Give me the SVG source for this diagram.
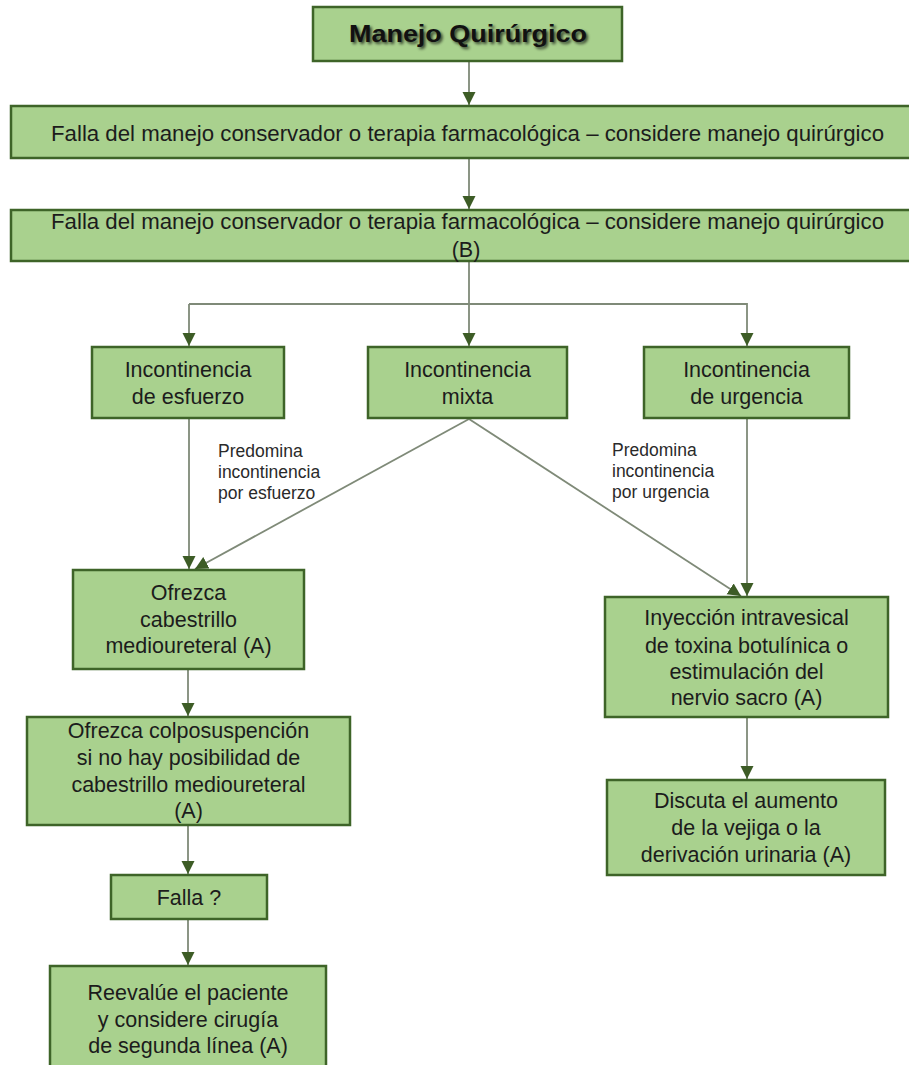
<svg xmlns="http://www.w3.org/2000/svg" width="909" height="1065" viewBox="0 0 909 1065">
  <style>
    .box { fill: #a9d18e; stroke: #3e6428; stroke-width: 2.5; }
    .t { font-family: "Liberation Sans", Arial, sans-serif; font-size: 21.5px; fill: #1c1c1c; text-anchor: middle; }
    .lbl { font-family: "Liberation Sans", Arial, sans-serif; font-size: 17.5px; fill: #2a2a2a; }
    .title { font-family: "Liberation Sans", Arial, sans-serif; font-size: 24px; font-weight: bold; fill: #111; text-anchor: middle; }
    .c { fill: none; stroke: #7f8a78; stroke-width: 1.8; }
  </style>
  <defs>
    <marker id="ah" markerUnits="userSpaceOnUse" markerWidth="14" markerHeight="14" refX="13" refY="6.5" orient="auto">
      <path d="M0,0 L13,6.5 L0,13 Z" fill="#3d5c26"/>
    </marker>
    <filter id="sh" x="-10%" y="-40%" width="120%" height="180%">
      <feGaussianBlur stdDeviation="1.8"/>
    </filter>
  </defs>
  <rect width="909" height="1065" fill="#ffffff"/>

  <g id="connectors">
    <line class="c" x1="469" y1="62" x2="469" y2="105" marker-end="url(#ah)"/>
    <line class="c" x1="469" y1="158" x2="469" y2="209" marker-end="url(#ah)"/>
    <line class="c" x1="469" y1="262" x2="469" y2="346" marker-end="url(#ah)"/>
    <path class="c" d="M189,304 L747,304 L747,346" marker-end="url(#ah)"/>
    <line class="c" x1="189" y1="304" x2="189" y2="346" marker-end="url(#ah)"/>
    <line class="c" x1="189" y1="419" x2="189" y2="569" marker-end="url(#ah)"/>
    <line class="c" x1="469" y1="419" x2="195" y2="569" marker-end="url(#ah)"/>
    <line class="c" x1="469" y1="419" x2="741" y2="596" marker-end="url(#ah)"/>
    <line class="c" x1="747" y1="419" x2="747" y2="596" marker-end="url(#ah)"/>
    <line class="c" x1="747" y1="718" x2="747" y2="779" marker-end="url(#ah)"/>
    <line class="c" x1="188" y1="670" x2="188" y2="716" marker-end="url(#ah)"/>
    <line class="c" x1="188" y1="826" x2="188" y2="874" marker-end="url(#ah)"/>
    <line class="c" x1="188" y1="920" x2="188" y2="965" marker-end="url(#ah)"/>
  </g>

  <g id="n-title">
    <rect class="box" x="313" y="7" width="309" height="54"/>
    <text class="title" x="470" y="44" style="fill:#000;opacity:0.7" filter="url(#sh)" textLength="238" lengthAdjust="spacingAndGlyphs">Manejo Quirúrgico</text>
    <text class="title" x="468" y="42" textLength="238" lengthAdjust="spacingAndGlyphs">Manejo Quirúrgico</text>
  </g>

  <g id="n-falla1">
    <rect class="box" x="11" y="106" width="910" height="52"/>
    <text class="t" x="467.5" y="141" textLength="833" lengthAdjust="spacingAndGlyphs">Falla del manejo conservador o terapia farmacológica – considere manejo quirúrgico</text>
  </g>

  <g id="n-falla2">
    <rect class="box" x="11" y="210" width="910" height="51"/>
    <text class="t" x="467.5" y="229" textLength="833" lengthAdjust="spacingAndGlyphs">Falla del manejo conservador o terapia farmacológica – considere manejo quirúrgico</text>
    <text class="t" x="466" y="257">(B)</text>
  </g>

  <g id="n-esfuerzo">
    <rect class="box" x="92" y="347" width="192" height="71"/>
    <text class="t" x="188" y="377">Incontinencia</text>
    <text class="t" x="188" y="404">de esfuerzo</text>
  </g>

  <g id="n-mixta">
    <rect class="box" x="368" y="347" width="199" height="71"/>
    <text class="t" x="467.5" y="377">Incontinencia</text>
    <text class="t" x="467.5" y="404">mixta</text>
  </g>

  <g id="n-urgencia">
    <rect class="box" x="644" y="347" width="205" height="71"/>
    <text class="t" x="746.5" y="377">Incontinencia</text>
    <text class="t" x="746.5" y="404">de urgencia</text>
  </g>

  <g id="lbl-esfuerzo">
    <text class="lbl" x="218" y="457">Predomina</text>
    <text class="lbl" x="218" y="478">incontinencia</text>
    <text class="lbl" x="218" y="499">por esfuerzo</text>
  </g>

  <g id="lbl-urgencia">
    <text class="lbl" x="612" y="456">Predomina</text>
    <text class="lbl" x="612" y="477">incontinencia</text>
    <text class="lbl" x="612" y="498">por urgencia</text>
  </g>

  <g id="n-cabestrillo">
    <rect class="box" x="73" y="570" width="231" height="99"/>
    <text class="t" x="188.5" y="600">Ofrezca</text>
    <text class="t" x="188.5" y="627">cabestrillo</text>
    <text class="t" x="188.5" y="653">medioureteral (A)</text>
  </g>

  <g id="n-colpo">
    <rect class="box" x="27" y="717" width="323" height="108"/>
    <text class="t" x="188.5" y="738">Ofrezca colposuspención</text>
    <text class="t" x="188.5" y="765">si no hay posibilidad de</text>
    <text class="t" x="188.5" y="792">cabestrillo medioureteral</text>
    <text class="t" x="188.5" y="818">(A)</text>
  </g>

  <g id="n-fallaq">
    <rect class="box" x="111" y="875" width="156" height="44"/>
    <text class="t" x="189" y="905">Falla ?</text>
  </g>

  <g id="n-reevalue">
    <rect class="box" x="50" y="966" width="276" height="110"/>
    <text class="t" x="188" y="1000">Reevalúe el paciente</text>
    <text class="t" x="188" y="1027">y considere cirugía</text>
    <text class="t" x="188" y="1053">de segunda línea (A)</text>
  </g>

  <g id="n-inyeccion">
    <rect class="box" x="605" y="597" width="283" height="120"/>
    <text class="t" x="746.5" y="625">Inyección intravesical</text>
    <text class="t" x="746.5" y="653">de toxina botulínica o</text>
    <text class="t" x="746.5" y="679">estimulación del</text>
    <text class="t" x="746.5" y="705">nervio sacro (A)</text>
  </g>

  <g id="n-discuta">
    <rect class="box" x="607" y="780" width="278" height="95"/>
    <text class="t" x="746" y="808">Discuta el aumento</text>
    <text class="t" x="746" y="835">de la vejiga o la</text>
    <text class="t" x="746" y="862">derivación urinaria (A)</text>
  </g>
</svg>
